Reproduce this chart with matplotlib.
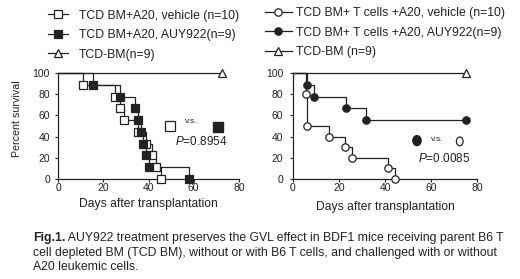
import matplotlib
matplotlib.use('Agg')
import matplotlib.pyplot as plt
from matplotlib.lines import Line2D
from matplotlib.patches import Ellipse

plt.rcParams['font.family'] = ['Liberation Sans', 'DejaVu Sans']
plt.rcParams['mathtext.fontset'] = 'custom'
plt.rcParams['mathtext.it'] = 'Liberation Sans:italic'
plt.rcParams['mathtext.rm'] = 'Liberation Sans'

ink = '#222222'

# left panel: TCD BM + A20
left_veh_t = [0, 11, 25, 27.5, 29, 35.5, 39, 41.5, 43.5, 45.5]
left_veh_s = [100, 88.9, 77.8, 66.7, 55.6, 44.4, 33.3, 22.2, 11.1, 0]
left_auy_t = [0, 15.5, 27.5, 34, 35.5, 36.5, 37.7, 38.7, 40.4, 58]
left_auy_s = [100, 88.9, 77.8, 66.7, 55.6, 44.4, 33.3, 22.2, 11.1, 0]
left_tcd_t = [0, 72.5]
left_tcd_s = [100, 100]

# right panel: TCD BM + T cells + A20
right_veh_t = [0, 5.6, 6.1, 15.7, 22.6, 25.8, 41.3, 44.2]
right_veh_s = [100, 80, 50, 40, 30, 20, 10, 0]
right_auy_t = [0, 6.2, 9.1, 22.9, 31.6, 75]
right_auy_s = [100, 88.9, 77.8, 66.7, 55.6, 55.6]
right_tcd_t = [0, 75]
right_tcd_s = [100, 100]

left_labels = ['TCD BM+A20, vehicle (n=10)', 'TCD BM+A20, AUY922(n=9)', 'TCD-BM(n=9)']
right_labels = ['TCD BM+ T cells +A20, vehicle (n=10)', 'TCD BM+ T cells +A20, AUY922(n=9)',
                'TCD-BM (n=9)']

x_ticks = [0, 20, 40, 60, 80]
y_ticks = [0, 20, 40, 60, 80, 100]

caption = ['AUY922 treatment preserves the GVL effect in BDF1 mice receiving parent B6 T',
           'cell depleted BM (TCD BM), without or with B6 T cells, and challenged with or without',
           'A20 leukemic cells.']


def km(ax, t, s, marker, fc):
    # step curve plus a symbol at every event / censor point
    ax.step(t, s, where='post', color=ink, lw=0.9, clip_on=False)
    ax.plot(t[1:], s[1:], ls='none', marker=marker, ms=5.3, mfc=fc, mec=ink, mew=0.9,
            clip_on=False, zorder=3)
    return Line2D([], [], color=ink, lw=0.9, marker=marker, ms=5.3, mfc=fc, mec=ink, mew=0.9)


def style(ax, ypad):
    ax.set_xlim(0, 80)
    ax.set_ylim(0, 100)
    ax.set_xticks(x_ticks)
    ax.set_yticks(y_ticks)
    for sp in ['top', 'right']:
        ax.spines[sp].set_visible(False)
    for sp in ['left', 'bottom']:
        ax.spines[sp].set_color(ink)
        ax.spines[sp].set_linewidth(0.9)
    ax.tick_params(axis='x', length=2, pad=1.2, labelsize=7.5, colors=ink, width=0.8)
    ax.tick_params(axis='y', length=2, pad=ypad, labelsize=7.5, colors=ink, width=0.8)
    ax.set_xlabel('Days after transplantation', fontsize=8.7, color=ink, labelpad=3.5)


fig = plt.figure(figsize=(5.2, 2.79), dpi=100)
axL = fig.add_axes([58 / 520, 1 - 179 / 279, 181 / 520, 106 / 279])
axR = fig.add_axes([293 / 520, 1 - 179 / 279, 184 / 520, 106 / 279])

hL = [km(axL, left_veh_t, left_veh_s, 's', 'white'),
      km(axL, left_auy_t, left_auy_s, 's', ink),
      km(axL, left_tcd_t, left_tcd_s, '^', 'white')]
hR = [km(axR, right_veh_t, right_veh_s, 'o', 'white'),
      km(axR, right_auy_t, right_auy_s, 'o', ink),
      km(axR, right_tcd_t, right_tcd_s, '^', 'white')]

style(axL, 3.8)
style(axR, 5)
axR.xaxis.labelpad = 5.5
axL.set_ylabel('Percent survival', fontsize=7.7, color=ink)
axL.yaxis.set_label_coords(-0.2, 0.57)

# p-value annotations
axL.plot([49.5], [50], marker='s', ms=6.5, mfc='white', mec=ink, mew=0.9, clip_on=False)
axL.plot([70.8], [49], marker='s', ms=7.5, mfc=ink, mec=ink, clip_on=False)
axL.text(56, 54, 'v.s.', fontsize=6, color=ink, va='center')
axL.text(51.5, 35.7, r'$\it{P}$=0.8954', fontsize=8.5, color=ink, va='center')

axR.add_patch(Ellipse((53.9, 36.2), 3.6, 9.4, facecolor=ink, edgecolor=ink, clip_on=False))
axR.add_patch(Ellipse((72.5, 35.5), 2.9, 8.2, facecolor='white', edgecolor=ink, lw=0.9,
                      clip_on=False))
axR.text(60, 37, 'v.s.', fontsize=6, color=ink, va='center')
axR.text(54.3, 19.2, r'$\it{P}$=0.0085', fontsize=8.5, color=ink, va='center')

legkw = dict(loc='upper left', frameon=False, borderaxespad=0, borderpad=0, fontsize=8.8,
             labelcolor=ink, numpoints=1, labelspacing=0.62)
fig.legend(hL, left_labels, bbox_to_anchor=(48 / 520, 1 - 9.5 / 279), handlelength=1.64,
           handletextpad=0.9, **legkw)
fig.legend(hR, right_labels, bbox_to_anchor=(265 / 520, 1 - 7 / 279), handlelength=2.2,
           handletextpad=0.33, **legkw)

# caption
r = fig.canvas.get_renderer()
cy = [238, 253, 267]
bold = fig.text(33 / 520, 1 - cy[0] / 279, 'Fig.1.', fontsize=8.8, fontweight='bold',
                color=ink, va='center')
bw = bold.get_window_extent(r).width
fig.text((33 + bw) / 520, 1 - cy[0] / 279, ' ' + caption[0], fontsize=8.8, color=ink, va='center')
for line, y in zip(caption[1:], cy[1:]):
    fig.text(33 / 520, 1 - y / 279, line, fontsize=8.8, color=ink, va='center')

fig.savefig('out.png', dpi=100)
